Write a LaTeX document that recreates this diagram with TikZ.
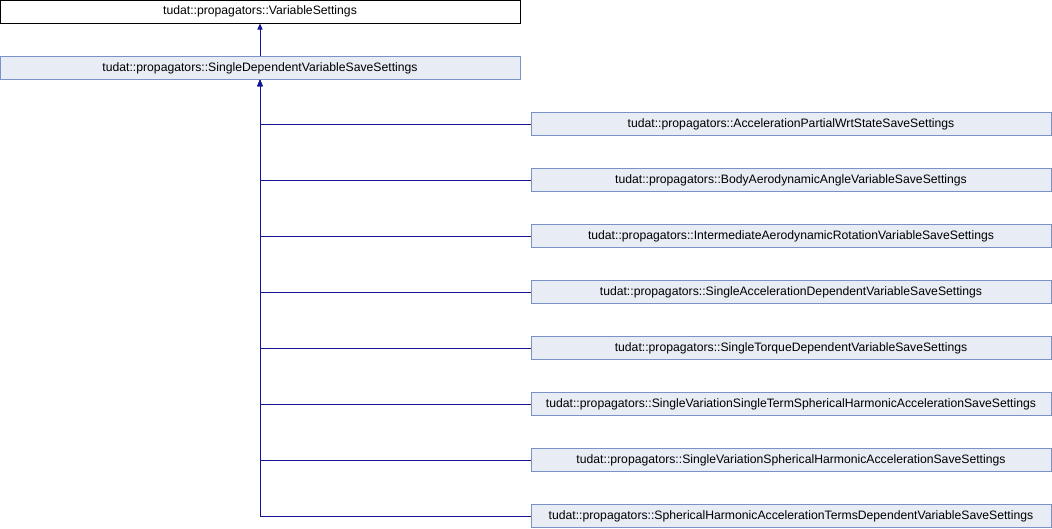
\documentclass[tikz,border=0pt]{standalone}
\usepackage{fontspec}
\setmainfont{Liberation Sans}
\usetikzlibrary{arrows.meta,positioning}

\definecolor{boxfill}{RGB}{232,236,244}
\definecolor{boxline}{RGB}{122,146,200}
\definecolor{edgeblue}{RGB}{20,20,150}

\begin{document}
\begin{tikzpicture}
	[x=1pt,y=-1pt,
	class node/.style={draw=boxline,fill=boxfill,line width=1pt,minimum width=520pt,minimum height=23pt,inner sep=0pt,font=\fontsize{12.2}{14}\selectfont},
	base node/.style={class node,draw=black,fill=white},
	edge/.style={draw=edgeblue,line width=1pt,-{Triangle[width=5pt,length=6pt]}}]
	\useasboundingbox (0,0) rectangle (1052,528);
	
	\node[base node] (vs) at (260,11.5) {tudat::propagators::VariableSettings};
	\node[class node] (sdv) at (260,68) {tudat::propagators::SingleDependentVariableSaveSettings};
	\draw[edge] (sdv.north) -- (vs.south);
	
	\foreach \name [count=\i from 0] in {AccelerationPartialWrtStateSaveSettings,
		BodyAerodynamicAngleVariableSaveSettings,
		IntermediateAerodynamicRotationVariableSaveSettings,
		SingleAccelerationDependentVariableSaveSettings,
		SingleTorqueDependentVariableSaveSettings,
		SingleVariationSingleTermSphericalHarmonicAccelerationSaveSettings,
		SingleVariationSphericalHarmonicAccelerationSaveSettings,
		SphericalHarmonicAccelerationTermsDependentVariableSaveSettings}
	{
		\node[class node] (c\i) at (791,124+56*\i) {tudat::propagators::\name};
		\draw[edge] (c\i.west) -| (sdv.south);
	}
\end{tikzpicture}
\end{document}
